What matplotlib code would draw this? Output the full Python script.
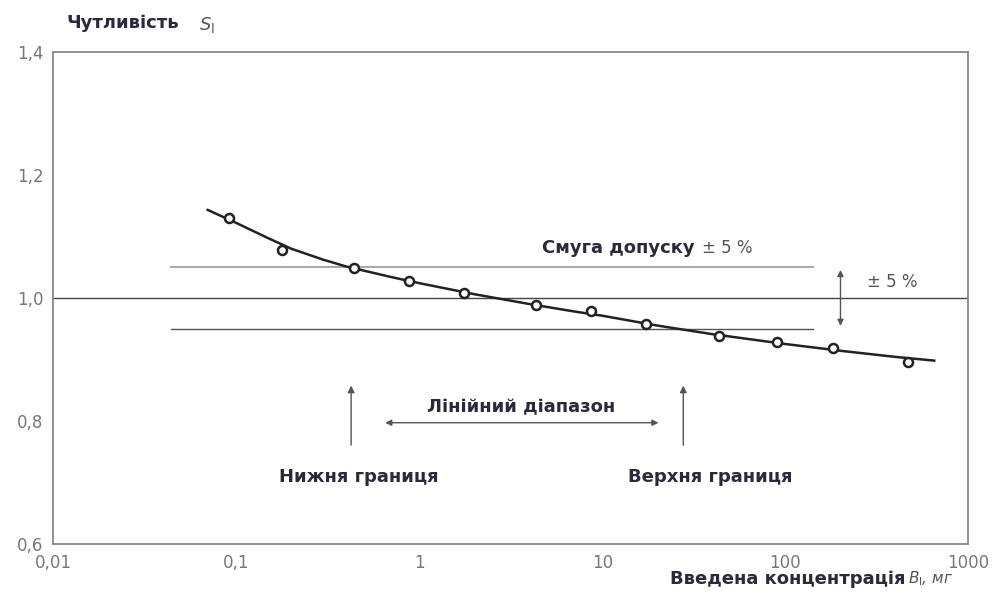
import matplotlib.pyplot as plt
import numpy as np

plt.rcParams['font.family'] = ['DejaVu Sans']

# точки вимірювань (введена концентрація, чутливість)
conc = [0.092, 0.178, 0.44, 0.88, 1.76, 4.36, 8.7, 17.4, 43.6, 90, 183, 466]
sens = [1.130, 1.078, 1.049, 1.028, 1.008, 0.989, 0.979, 0.958, 0.938, 0.928, 0.919, 0.896]

# згладжена крива
curve_x = [0.07, 0.1, 0.15, 0.2, 0.3, 0.4, 0.7, 1, 2, 4, 7, 10, 20, 40, 100, 200, 400, 650]
curve_y = [1.143, 1.122, 1.097, 1.080, 1.062, 1.051, 1.034, 1.024, 1.006, 0.990, 0.978, 0.971,
           0.955, 0.941, 0.925, 0.914, 0.904, 0.898]

band_lo, band_hi = 0.95, 1.05
band_x = [0.044, 142]
lower_lim = 0.425
upper_lim = 27.7
lin_range = [0.63, 21]

xticks = [0.01, 0.1, 1, 10, 100, 1000]
xlabels = ['0,01', '0,1', '1', '10', '100', '1000']
yticks = [0.6, 0.8, 1.0, 1.2, 1.4]
ylabels = ['0,6', '0,8', '1,0', '1,2', '1,4']

fig = plt.figure(figsize=(9.94, 6.03), dpi=100)
ax = fig.add_axes([0.0533, 0.098, 0.921, 0.816])
ax.set_xscale('log')
ax.set_xlim(0.01, 1000)
ax.set_ylim(0.6, 1.4)

# лінія 1,0 та смуга допуску
ax.axhline(1.0, color='#444444', lw=1.0)
ax.plot(band_x, [band_hi, band_hi], color='#aaaaaa', lw=1.5)
ax.plot(band_x, [band_lo, band_lo], color='#555555', lw=1.0)

ax.plot(curve_x, curve_y, color='#222222', lw=1.8)
ax.plot(conc, sens, 'o', ms=6.5, mfc='white', mec='#222222', mew=1.8)

arrow = dict(arrowstyle='-|>', color='#555555', lw=1.0, mutation_scale=10)
ax.annotate('', xy=(lower_lim, 0.862), xytext=(lower_lim, 0.756), arrowprops=arrow)
ax.annotate('', xy=(upper_lim, 0.862), xytext=(upper_lim, 0.756), arrowprops=arrow)
darrow = dict(arrowstyle='<|-|>', color='#555555', lw=1.0, mutation_scale=9)
ax.annotate('', xy=(lin_range[0], 0.797), xytext=(lin_range[1], 0.797), arrowprops=darrow)
ax.annotate('', xy=(200, band_hi), xytext=(200, band_lo), arrowprops=darrow)

fs = 13
lbl = dict(fontsize=fs, color='#2a2a3a', fontweight='bold', va='center')
ax.text(3.6, 0.823, 'Лінійний діапазон', ha='center', **lbl)
ax.text(0.47, 0.709, 'Нижня границя', ha='center', **lbl)
ax.text(39, 0.709, 'Верхня границя', ha='center', **lbl)
ax.text(31.8, 1.081, 'Смуга допуску', ha='right', **lbl)
ax.text(35.2, 1.081, '± 5 %', ha='left', va='center', fontsize=12, color='#555555')
ax.text(384, 1.026, '± 5 %', ha='center', va='center', fontsize=12, color='#555555')

ax.set_xticks(xticks)
ax.set_xticklabels(xlabels)
ax.set_yticks(yticks)
ax.set_yticklabels(ylabels)
ax.minorticks_off()
ax.tick_params(length=0, pad=7, labelsize=12, labelcolor='#777777')
for s in ax.spines.values():
    s.set_color('#888888')
    s.set_linewidth(1.3)

fig.text(0.067, 0.962, 'Чутливість', fontsize=fs, color='#2a2a3a', fontweight='bold', va='center')
fig.text(0.200, 0.958, '$S_\\mathrm{l}$', fontsize=13, color='#555555', va='center')
fig.text(0.911, 0.040, 'Введена концентрація', fontsize=fs, color='#2a2a3a', fontweight='bold',
         ha='right', va='center')
fig.text(0.913, 0.040, '$B_\\mathrm{l}$, мг', fontsize=11, color='#555555', style='italic',
         ha='left', va='center')

fig.savefig('out.png', dpi=100)
